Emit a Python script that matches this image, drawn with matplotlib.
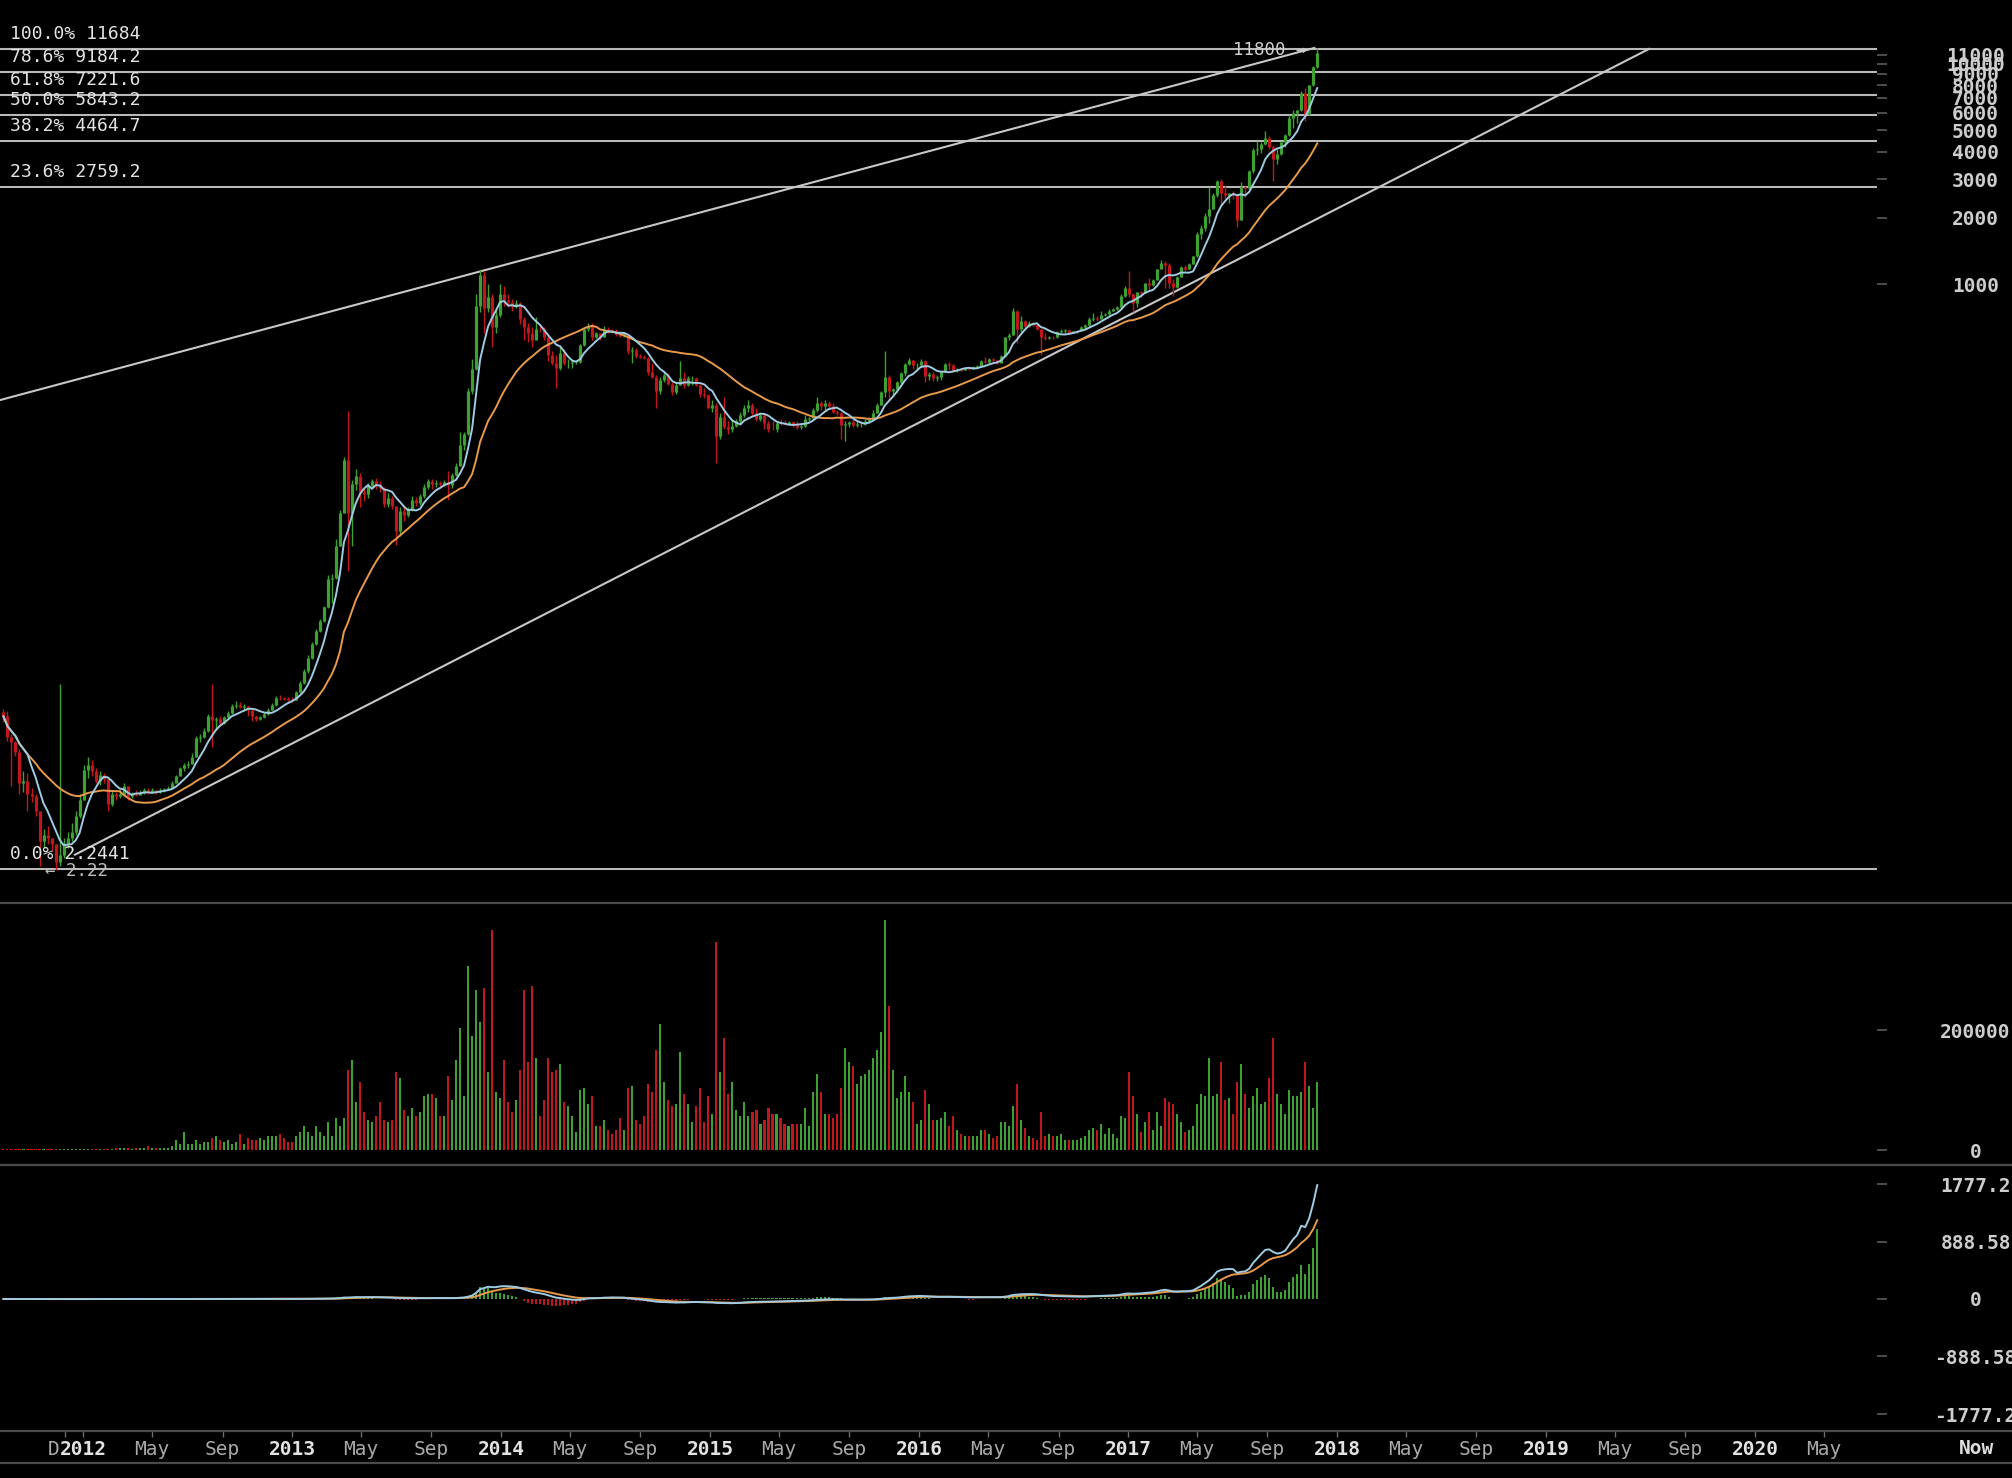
import numpy as np
import pandas as pd
import matplotlib
matplotlib.use("Agg")
import matplotlib.pyplot as plt
import matplotlib.dates as mdates
from matplotlib.lines import Line2D
from matplotlib.ticker import NullLocator

plt.rcParams['font.family'] = ['DejaVu Sans Mono', 'DejaVu Sans']

# ---------------- data (weekly bars, Bitstamp BTC/USD) ----------------
first_week = '2011-08-15'
first_open = 11.5

close = [
    11.0, 8.9, 8.4, 7.6, 5.5, 5.6, 4.9, 4.8, 4.1, 3.0,
    3.2, 3.1, 2.9, 2.4, 2.6, 2.9, 3.1, 3.3, 3.9, 4.6,
    6.3, 6.6, 6.2, 5.6, 6.0, 5.7, 4.4, 4.9, 4.8, 4.9,
    5.3, 4.8, 4.9, 4.85, 4.95, 5.1, 5.0, 5.1, 5.0, 5.1,
    5.15, 5.2, 5.5, 5.9, 6.4, 6.6, 6.7, 7.2, 8.8, 8.9,
    9.5, 11.0, 10.6, 10.7, 10.3, 10.9, 11.4, 12.3, 12.4, 12.2,
    12.3, 11.8, 11.1, 10.7, 10.9, 11.3, 11.8, 12.4, 13.4, 13.3,
    13.2, 13.1, 13.0, 14.2, 15.6, 17.6, 20.3, 23.5, 26.9, 29.7,
    34.5, 46.0, 46.9, 65.0, 92.0, 160, 92, 125, 135, 115,
    112, 122, 128, 125, 120, 101, 108, 99, 76, 94,
    90, 95, 105, 102, 110, 121, 129, 124, 126, 124,
    127, 123, 137, 150, 188, 210, 330, 415, 800, 1100,
    780, 880, 640, 730, 900, 850, 830, 800, 820, 700,
    640, 605, 560, 630, 625, 580, 480, 440, 420, 490,
    440, 442, 445, 447, 530, 630, 650, 580, 600, 580,
    630, 620, 615, 595, 585, 590, 500, 505, 475, 470,
    465, 400, 380, 330, 370, 390, 355, 325, 350, 375,
    350, 375, 378, 350, 320, 315, 275, 285, 205, 250,
    225, 220, 228, 240, 255, 275, 285, 260, 245, 255,
    235, 222, 220, 236, 235, 234, 238, 230, 225, 228,
    245, 248, 270, 290, 280, 290, 280, 265, 260, 230,
    232, 238, 230, 232, 234, 240, 246, 262, 285, 325,
    380, 330, 335, 360, 395, 435, 455, 430, 432, 448,
    385, 392, 375, 380, 400, 435, 430, 410, 415, 410,
    416, 415, 420, 428, 450, 445, 458, 455, 442, 475,
    575, 590, 760, 630, 680, 650, 665, 655, 625, 580,
    570, 580, 575, 610, 615, 620, 605, 612, 618, 640,
    655, 700, 705, 700, 730, 735, 760, 770, 790, 890,
    960, 900, 820, 920, 915, 1010, 995, 1050, 1170, 1250,
    1230, 1020, 970, 1080, 1200, 1170, 1240, 1340, 1700, 1800,
    2050, 2200, 2550, 2950, 2600, 2550, 2590, 2550, 1950, 2750,
    2730, 3250, 4050, 4100, 4350, 4600, 4200, 3700, 3900, 4400,
    4780, 5700, 6000, 6150, 7400, 5900, 8000, 9700, 11200,
]

high = [
    11.9, 11.6, 9.2, 8.5, 7.8, 6.2, 6.1, 5.2, 4.9, 4.1,
    3.4, 3.5, 3.1, 2.9, 15.4, 3.1, 3.3, 3.6, 4.1, 4.9,
    6.6, 7.2, 7.0, 6.4, 6.2, 6.1, 5.8, 5.1, 5.0, 5.1,
    5.5, 5.3, 5.0, 5.1, 5.1, 5.2, 5.2, 5.2, 5.1, 5.2,
    5.2, 5.3, 5.6, 6.0, 6.5, 6.8, 6.9, 7.5, 9.0, 9.2,
    9.8, 11.3, 15.4, 10.9, 11.0, 11.1, 11.6, 12.5, 12.9, 12.8,
    12.5, 12.3, 11.9, 11.1, 11.0, 11.5, 12.0, 12.6, 13.6, 13.7,
    13.5, 13.5, 13.5, 14.4, 16.0, 18.0, 21.0, 24.0, 27.5, 30.5,
    35.0, 48.0, 48.5, 70.0, 95.0, 165, 266, 130, 145, 140,
    120, 126, 131, 133, 128, 121, 113, 110, 99, 98,
    100, 98, 110, 109, 112, 125, 131, 131, 130, 128,
    130, 143, 139, 155, 215, 214, 340, 460, 900, 1163,
    1150, 1000, 900, 780, 1000, 980, 900, 860, 850, 830,
    710, 670, 640, 710, 650, 640, 590, 500, 480, 530,
    510, 460, 460, 455, 535, 635, 670, 665, 610, 600,
    645, 640, 630, 625, 600, 600, 590, 520, 515, 485,
    480, 470, 440, 390, 380, 400, 395, 360, 360, 450,
    400, 385, 385, 380, 355, 340, 320, 300, 290, 260,
    310, 240, 245, 245, 265, 285, 300, 290, 275, 260,
    260, 240, 240, 240, 245, 244, 240, 240, 240, 235,
    255, 250, 275, 310, 295, 300, 295, 290, 270, 265,
    240, 240, 245, 240, 240, 245, 250, 270, 290, 330,
    500, 390, 340, 365, 400, 440, 465, 455, 440, 460,
    455, 400, 400, 390, 405, 440, 445, 435, 420, 420,
    420, 420, 425, 430, 455, 468, 465, 462, 456, 478,
    580, 600, 780, 765, 720, 690, 680, 675, 660, 630,
    600, 585, 585, 615, 625, 625, 625, 615, 620, 645,
    660, 715, 745, 720, 755, 745, 770, 780, 800, 900,
    980, 1150, 910, 925, 930, 1020, 1070, 1055, 1180, 1290,
    1280, 1250, 1060, 1090, 1210, 1220, 1250, 1350, 1730, 1850,
    2100, 2750, 2600, 2980, 3000, 2800, 2600, 2650, 2500, 2900,
    2800, 3300, 4150, 4480, 4400, 4980, 4700, 4300, 4100, 4450,
    4800, 5850, 6200, 6200, 7500, 7800, 8050, 9750, 11800,
]

low = [
    10.4, 8.5, 5.3, 7.3, 4.9, 5.0, 4.1, 4.5, 3.9, 2.3,
    2.8, 2.9, 2.7, 2.22, 2.3, 2.5, 2.8, 3.0, 3.2, 3.8,
    4.7, 5.8, 5.9, 5.5, 5.4, 5.5, 4.1, 4.3, 4.6, 4.7,
    4.8, 4.6, 4.7, 4.8, 4.85, 4.9, 4.9, 4.95, 4.9, 4.95,
    5.0, 5.1, 5.2, 5.5, 5.9, 6.2, 6.4, 6.7, 7.2, 8.4,
    8.8, 9.4, 8.0, 9.6, 10.0, 10.2, 10.8, 11.3, 12.0, 12.0,
    11.7, 11.0, 10.5, 10.5, 10.6, 10.8, 11.2, 11.8, 12.3, 13.1,
    13.0, 12.9, 12.8, 13.0, 14.0, 15.5, 17.4, 20.0, 23.2, 26.5,
    29.5, 34.0, 36.0, 46.0, 65.0, 92, 50, 65, 117, 98,
    104, 108, 120, 118, 115, 98, 98, 96, 66, 72,
    85, 88, 94, 99, 100, 108, 118, 118, 121, 122,
    122, 105, 120, 135, 150, 178, 208, 320, 410, 750,
    600, 750, 522, 600, 715, 800, 790, 760, 780, 660,
    560, 550, 520, 560, 610, 560, 450, 430, 340, 410,
    430, 420, 420, 435, 440, 525, 615, 560, 570, 560,
    575, 605, 600, 585, 575, 575, 485, 440, 465, 465,
    460, 390, 375, 275, 320, 360, 350, 315, 320, 355,
    340, 345, 350, 345, 310, 305, 280, 265, 155, 200,
    220, 210, 215, 225, 235, 250, 265, 255, 240, 240,
    220, 215, 218, 215, 230, 230, 230, 225, 220, 220,
    225, 240, 245, 265, 270, 270, 275, 260, 255, 200,
    195, 225, 225, 225, 225, 230, 235, 245, 260, 285,
    310, 300, 315, 325, 355, 385, 430, 415, 415, 425,
    360, 370, 365, 365, 370, 400, 410, 400, 400, 405,
    410, 410, 415, 418, 425, 440, 440, 445, 435, 440,
    470, 560, 590, 540, 610, 625, 640, 645, 620, 480,
    560, 565, 565, 570, 605, 605, 595, 600, 605, 615,
    630, 650, 680, 680, 695, 720, 730, 755, 765, 785,
    880, 880, 750, 790, 880, 915, 930, 985, 1050, 1170,
    960, 960, 890, 960, 1080, 1150, 1170, 1235, 1330, 1600,
    1750, 1900, 2200, 2500, 2300, 2450, 2350, 2450, 1830, 1950,
    2500, 2700, 3200, 3850, 3950, 4300, 4100, 2950, 3500, 3850,
    4200, 4700, 5100, 5400, 6100, 5500, 5850, 7950, 9600,
]

volume = [
    1500, 1500, 1500, 1500, 1500, 1500, 1500, 1500, 1500, 1500,
    1500, 1500, 1500, 1500, 1500, 1500, 1500, 1500, 1500, 1500,
    1500, 1500, 1500, 1500, 1500, 1500, 1500, 1500, 3300, 3300,
    3300, 3300, 1100, 3300, 3300, 3300, 6700, 3300, 3300, 3300,
    3300, 3300, 6700, 16700, 10000, 30000, 10000, 10000, 16700, 10000,
    13300, 13300, 20000, 23300, 16700, 13300, 16700, 10000, 13300, 26700,
    10000, 20000, 16700, 16700, 20000, 16700, 23300, 23300, 23300, 26700,
    20000, 13300, 13300, 23300, 30000, 40000, 30000, 23300, 40000, 30000,
    23300, 46700, 23300, 53300, 40000, 53300, 133300, 150000, 80000, 113300,
    63300, 50000, 46700, 56700, 80000, 50000, 46700, 50000, 130000, 120000,
    66700, 56700, 70000, 56700, 63300, 90000, 93300, 93300, 86700, 56700,
    56700, 123300, 83300, 150000, 203300, 90000, 306700, 190000, 266700, 213300,
    270000, 130000, 366700, 96700, 86700, 150000, 80000, 63300, 83300, 133300,
    266700, 146700, 273300, 153300, 56700, 83300, 153300, 130000, 133300, 143300,
    80000, 73300, 56700, 30000, 100000, 103300, 76700, 90000, 40000, 40000,
    50000, 33300, 26700, 33300, 53300, 33300, 103300, 106700, 50000, 43300,
    56700, 110000, 96700, 166700, 210000, 113300, 83300, 73300, 76700, 163300,
    93300, 76700, 46700, 73300, 103300, 46700, 90000, 60000, 346700, 130000,
    186700, 93300, 113300, 66700, 56700, 80000, 56700, 63300, 66700, 43300,
    50000, 70000, 60000, 60000, 53300, 43300, 40000, 43300, 43300, 43300,
    70000, 40000, 96700, 126700, 96700, 60000, 60000, 53300, 60000, 103300,
    170000, 146700, 140000, 110000, 123300, 126700, 133300, 153300, 166700, 196700,
    383300, 240000, 133300, 86700, 96700, 123300, 96700, 80000, 43300, 50000,
    100000, 76700, 50000, 50000, 53300, 63300, 40000, 56700, 33300, 26700,
    23300, 23300, 23300, 23300, 33300, 33300, 26700, 20000, 23300, 46700,
    46700, 40000, 73300, 110000, 50000, 36700, 23300, 20000, 16700, 63300,
    23300, 26700, 23300, 23300, 26700, 16700, 16700, 16700, 16700, 20000,
    23300, 33300, 36700, 33300, 43300, 26700, 36700, 26700, 20000, 56700,
    53300, 130000, 90000, 60000, 30000, 46700, 63300, 33300, 63300, 40000,
    86700, 80000, 76700, 60000, 46700, 30000, 33300, 40000, 76700, 93300,
    90000, 153300, 90000, 93300, 146700, 83300, 86700, 60000, 113300, 143300,
    93300, 70000, 90000, 103300, 76700, 80000, 120000, 186700, 93300, 76700,
    60000, 100000, 90000, 90000, 96700, 146700, 106700, 70000, 113300,
]

fib_pct = ['100.0%', '78.6%', '61.8%', '50.0%', '38.2%', '23.6%', '0.0%']
fib_val = [11684, 9184.2, 7221.6, 5843.2, 4464.7, 2759.2, 2.2441]
fib_txt = ['11684', '9184.2', '7221.6', '5843.2', '4464.7', '2759.2', '2.2441']

upper_trend_dates = ['2011-08-09', '2017-11-22']
upper_trend_price = [299, 11800]
lower_trend_dates = ['2011-12-18', '2019-06-30']
lower_trend_price = [2.6, 11684]

ma_fast_n = 7
ma_slow_n = 30

price_ticks = [1000, 2000, 3000, 4000, 5000, 6000, 7000, 8000, 9000, 10000, 11000]
vol_ticks = [0, 200000]
macd_ticks = [-1777.2, -888.58, 0, 888.58, 1777.2]
macd_tick_labels = ['-1777.2', '-888.58', '0', '888.58', '1777.2']

x_tick_dates = ['2011-12-01', '2012-01-01', '2012-05-01', '2012-09-01',
                '2013-01-01', '2013-05-01', '2013-09-01',
                '2014-01-01', '2014-05-01', '2014-09-01',
                '2015-01-01', '2015-05-01', '2015-09-01',
                '2016-01-01', '2016-05-01', '2016-09-01',
                '2017-01-01', '2017-05-01', '2017-09-01',
                '2018-01-01', '2018-05-01', '2018-09-01',
                '2019-01-01', '2019-05-01', '2019-09-01',
                '2020-01-01', '2020-05-01']
x_tick_labels = ['Dec', '2012', 'May', 'Sep', '2013', 'May', 'Sep',
                 '2014', 'May', 'Sep', '2015', 'May', 'Sep',
                 '2016', 'May', 'Sep', '2017', 'May', 'Sep',
                 '2018', 'May', 'Sep', '2019', 'May', 'Sep', '2020', 'May']

# ---------------- derived series ----------------
dates = pd.date_range(first_week, periods=len(close), freq='7D')
x = mdates.date2num(dates)
c = np.array(close, float)
o = np.concatenate([[first_open], c[:-1]])
h = np.maximum(np.array(high, float), np.maximum(o, c))
l = np.minimum(np.array(low, float), np.minimum(o, c))
v = np.array(volume, float)

GREEN = '#3e9f33'
RED = '#c0161c'
BLUE = '#9fcbe3'
ORANGE = '#e89a4a'
GRAY_LINE = '#b8b8b8'

up = c >= o
col = np.where(up, GREEN, RED)

s = pd.Series(c)
ma_fast = s.rolling(ma_fast_n, min_periods=1).mean().values
ma_slow = s.rolling(ma_slow_n, min_periods=1).mean().values
dif = (s.ewm(span=12, adjust=False).mean() - s.ewm(span=26, adjust=False).mean())
dea = dif.ewm(span=9, adjust=False).mean()
hist = (2 * (dif - dea)).values
dif = dif.values
dea = dea.values

# ---------------- layout ----------------
W, H = 2012, 1478
fig = plt.figure(figsize=(W / 100, H / 100), dpi=100, facecolor='black')


def fx(px):
    return px / W


def fy(py):
    return 1 - py / H


AX_R = 1877
ax_p = fig.add_axes([0, fy(903), fx(AX_R), fy(0) - fy(903)])
ax_v = fig.add_axes([0, fy(1165), fx(AX_R), fy(903) - fy(1165)], sharex=ax_p)
ax_m = fig.add_axes([0, fy(1431), fx(AX_R), fy(1165) - fy(1431)], sharex=ax_p)

px_per_day = 0.5722
jan2012 = mdates.date2num(pd.Timestamp('2012-01-01'))
xlim = (jan2012 - 83 / px_per_day, jan2012 + (AX_R - 83) / px_per_day)

for ax in (ax_p, ax_v, ax_m):
    ax.set_facecolor('black')
    for sp in ax.spines.values():
        sp.set_visible(False)
    ax.set_xlim(*xlim)

# ---- price panel ----
ax_p.set_yscale('log')
dec_px = 220.6
y1000 = 284.4
ax_p.set_ylim(10 ** (3 - (903 - y1000) / dec_px), 10 ** (3 + y1000 / dec_px))

for val, pct, txt in zip(fib_val, fib_pct, fib_txt):
    ax_p.axhline(val, color=GRAY_LINE, lw=1.5, zorder=1)
    ax_p.annotate(f'{pct} {txt}', xy=(0, val), xycoords=('axes fraction', 'data'),
                  xytext=(10, 10), textcoords='offset pixels', va='baseline', ha='left',
                  fontsize=13, color='#e4e4e4', zorder=6)

ax_p.plot(mdates.date2num(pd.to_datetime(upper_trend_dates)), upper_trend_price,
          color='#c8c8c8', lw=1.5, zorder=2)
ax_p.plot(mdates.date2num(pd.to_datetime(lower_trend_dates)), lower_trend_price,
          color='#c8c8c8', lw=1.5, zorder=2)

ax_p.vlines(x, l, h, colors=col, lw=1.0, zorder=3)
ax_p.vlines(x, np.minimum(o, c), np.maximum(o, c), colors=col, lw=2.3, zorder=3)
ax_p.plot(x, ma_slow, color=ORANGE, lw=1.4, zorder=4)
ax_p.plot(x, ma_fast, color=BLUE, lw=1.4, zorder=4)

imax = int(np.argmax(h))
ax_p.annotate('11800 →', xy=(x[imax], h[imax]), xytext=(-11, -2), textcoords='offset pixels',
              ha='right', va='center', fontsize=12.5, color='#cfcfcf', zorder=6)
imin = int(np.argmin(l))
ax_p.annotate('← 2.22', xy=(x[imin], l[imin]), xytext=(-11, -1), textcoords='offset pixels',
              ha='left', va='center', fontsize=12.5, color='#bdbdbd', zorder=6)

# ---- volume panel ----
vol_px = 120 / 200000
ax_v.set_ylim(-(1165 - 1150) / vol_px, (1150 - 903) / vol_px)
ax_v.bar(x, v, width=3.6, color=col, linewidth=0)

# ---- MACD panel ----
macd_px = 115 / 1777.2
ax_m.set_ylim(-(1431 - 1299) / macd_px, (1299 - 1165) / macd_px)
hcol = np.where(hist >= 0, GREEN, RED)
ax_m.bar(x, hist, width=3.6, color=hcol, linewidth=0, zorder=2)
ax_m.plot(x, dea, color=ORANGE, lw=1.4, zorder=3)
ax_m.plot(x, dif, color=BLUE, lw=1.4, zorder=4)


# ---- y ticks (right side) ----
def style_y(ax, ticks, labels):
    ax.yaxis.tick_right()
    ax.set_yticks(ticks)
    ax.set_yticklabels(labels)
    ax.yaxis.set_minor_locator(NullLocator())
    ax.tick_params(axis='y', which='major', direction='out', length=7, width=1.2,
                   color='#5a5a5a', pad=64, labelsize=14, labelcolor='#cdcdcd')
    for t in ax.get_yticklabels():
        t.set_ha('center')
        t.set_fontweight('bold')


style_y(ax_p, price_ticks, [str(t) for t in price_ticks])
style_y(ax_v, vol_ticks, [str(t) for t in vol_ticks])
style_y(ax_m, macd_ticks, macd_tick_labels)

# ---- x ticks ----
xt = mdates.date2num(pd.to_datetime(x_tick_dates))
ax_m.set_xticks(xt)
ax_m.set_xticklabels(x_tick_labels)
ax_m.tick_params(axis='x', direction='out', length=4, width=1.0, color='#6a6a6a',
                 pad=9, labelsize=14)
for ax in (ax_p, ax_v):
    ax.tick_params(axis='x', length=0, labelbottom=False)
for t in ax_m.get_xticklabels():
    t.set_va('center')
    if t.get_text().isdigit():
        t.set_fontweight('bold')
        t.set_color('#e2e2e2')
        t.set_bbox(dict(facecolor='black', edgecolor='none', pad=0.5))
    else:
        t.set_color('#a9a9a9')

fig.text(fx(1976), fy(1448), 'Now', ha='center', va='center', fontsize=14,
         fontweight='bold', color='#dedede')

# ---- separators ----
for py in (903, 1165, 1431, 1463):
    fig.add_artist(Line2D([0, 1], [fy(py), fy(py)], transform=fig.transFigure,
                          color='#4a4a4a', lw=1.6))

fig.savefig('out.png', dpi=100, facecolor='black')
